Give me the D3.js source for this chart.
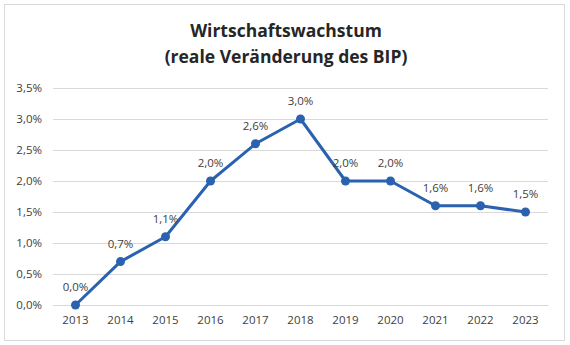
<!DOCTYPE html>
<html><head><meta charset="utf-8">
<script src="https://cdn.jsdelivr.net/npm/d3@7"></script>
<style>body{margin:0;background:#fff}svg{display:block}</style>
</head><body>
<script>
const years = ["2013","2014","2015","2016","2017","2018","2019","2020","2021","2022","2023"];
const growth = [0.0,0.7,1.1,2.0,2.6,3.0,2.0,2.0,1.6,1.6,1.5];
const yTicks = [0,0.5,1.0,1.5,2.0,2.5,3.0,3.5];
const titleLines = ["Wirtschaftswachstum","(reale Veränderung des BIP)"];

const W=570,H=345;
const svg=d3.select("body").append("svg").attr("width",W).attr("height",H);
const font="'Open Sans', 'Liberation Sans', sans-serif";
svg.append("rect").attr("x",4.5).attr("y",4.5).attr("width",560).attr("height",336)
  .attr("fill","#fff").attr("stroke","#d9d9d9");

const x=d3.scaleBand().domain(years).range([53,548]);
const y=d3.scaleLinear().domain([0,3.5]).range([305,88]);
const fmt=v=>d3.format(".1f")(v).replace(".",",")+"%";

svg.selectAll("text.t").data(titleLines).join("text").attr("class","t")
  .attr("x",286).attr("y",(d,i)=>37+i*26).attr("text-anchor","middle")
  .attr("font-family",font).attr("font-weight","bold").attr("font-size",17.5)
  .attr("fill","#262626").text(d=>d);

const ya=svg.append("g").attr("transform","translate(53,0)")
  .call(d3.axisLeft(y).tickValues(yTicks).tickFormat(fmt).tickSize(-495).tickPadding(11));
ya.select(".domain").remove();
ya.selectAll("line").attr("stroke","#d9d9d9");
ya.selectAll("text").attr("font-family",font).attr("font-size",11.5).attr("fill","#404040");

const xa=svg.append("g").attr("transform","translate(0,305)")
  .call(d3.axisBottom(x).tickSize(0).tickPadding(11));
xa.select(".domain").attr("stroke","#d9d9d9");
xa.selectAll("text").attr("font-family",font).attr("font-size",11.5).attr("fill","#404040");

const pts=years.map((yr,i)=>({yr,v:growth[i]}));
const cx=d=>x(d.yr)+x.bandwidth()/2;
svg.append("path").datum(pts)
  .attr("d",d3.line().x(cx).y(d=>y(d.v)))
  .attr("fill","none").attr("stroke","#2b62b0").attr("stroke-width",3).attr("stroke-linejoin","round");
svg.selectAll("circle.p").data(pts).join("circle").attr("class","p")
  .attr("cx",cx).attr("cy",d=>y(d.v)).attr("r",4.5).attr("fill","#2b62b0");
svg.selectAll("text.l").data(pts).join("text").attr("class","l")
  .attr("x",cx).attr("y",d=>y(d.v)-14).attr("text-anchor","middle")
  .attr("font-family",font).attr("font-size",11.5).attr("fill","#404040").text(d=>fmt(d.v));
</script>
</body></html>
